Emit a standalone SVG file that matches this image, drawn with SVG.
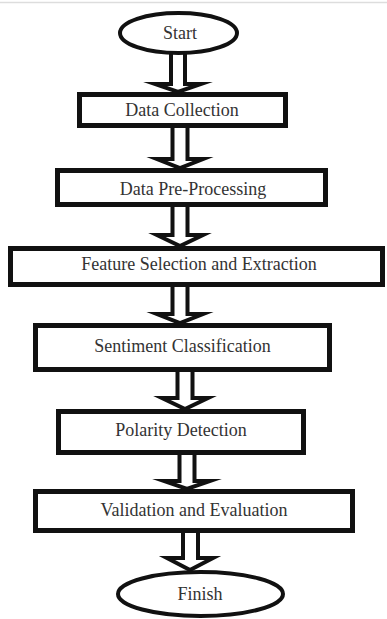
<svg xmlns="http://www.w3.org/2000/svg" width="387" height="619" viewBox="0 0 387 619">
<style>
.box{fill:#fff;stroke:#111;stroke-width:5}
.term{fill:#fff;stroke:#111;stroke-width:4}
.arr{fill:#fff;stroke:#111;stroke-width:4;stroke-linejoin:miter;stroke-miterlimit:10}
.t{font-family:"Liberation Serif","Times New Roman",serif;font-size:18px;fill:#333;text-anchor:middle}
</style>
<rect width="387" height="619" fill="#fff"/>
<line x1="0" y1="2.5" x2="387" y2="2.5" stroke="#ddd" stroke-width="1.5"/>
<g id="connectors">
<path class="arr" d="M171,50 V84 H155 L178,92 L201,84 H185 V50"/>
<path class="arr" d="M172.5,124 V159 H157 L180,168 L203,159 H187.5 V124"/>
<path class="arr" d="M172.5,203 V235 H157 L180,246 L203,235 H187.5 V203"/>
<path class="arr" d="M172.5,283 V314 H157 L180,323 L203,314 H187.5 V283"/>
<path class="arr" d="M177.5,368 V398 H162 L185,409 L208,398 H192.5 V368"/>
<path class="arr" d="M179.5,451 V481 H164 L187,489 L210,481 H194.5 V451"/>
<path class="arr" d="M183,529 V558 H167 L190,570 L213,558 H198 V529"/>
</g>
<g id="start">
<ellipse class="term" cx="178.5" cy="33" rx="58.5" ry="20"/>
<text class="t" x="180" y="39">Start</text>
</g>
<g id="data-collection">
<rect class="box" x="79.5" y="94.5" width="206" height="31"/>
<text class="t" x="182" y="116">Data Collection</text>
</g>
<g id="data-preprocessing">
<rect class="box" x="57.5" y="170.5" width="268" height="34"/>
<text class="t" x="193" y="195">Data Pre-Processing</text>
</g>
<g id="feature-selection">
<rect class="box" x="10.5" y="248.5" width="372" height="36"/>
<text class="t" x="199" y="270">Feature Selection and Extraction</text>
</g>
<g id="sentiment-classification">
<rect class="box" x="35.5" y="325.5" width="294" height="44"/>
<text class="t" x="182.5" y="352">Sentiment Classification</text>
</g>
<g id="polarity-detection">
<rect class="box" x="58.5" y="411.5" width="245" height="41"/>
<text class="t" x="181" y="436">Polarity Detection</text>
</g>
<g id="validation-evaluation">
<rect class="box" x="35.5" y="491.5" width="317" height="39"/>
<text class="t" x="194" y="516">Validation and Evaluation</text>
</g>
<g id="finish">
<ellipse class="term" cx="200.5" cy="594" rx="82.5" ry="22"/>
<text class="t" x="200" y="600">Finish</text>
</g>
</svg>
